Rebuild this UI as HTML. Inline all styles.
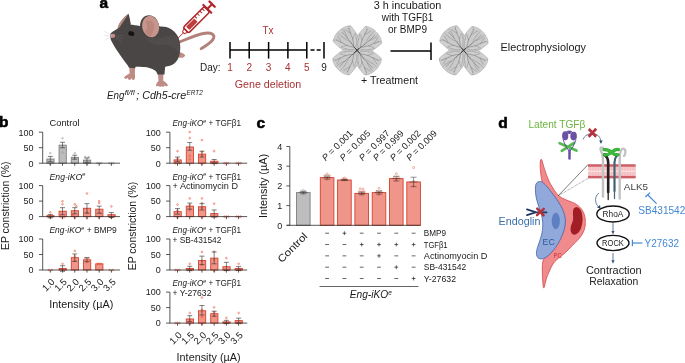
<!DOCTYPE html>
<html><head><meta charset="utf-8"><title>Figure</title>
<style>
html,body{margin:0;padding:0;background:#fff;}
body{width:685px;height:363px;overflow:hidden;font-family:'Liberation Sans', sans-serif;}
svg{display:block;font-family:"Liberation Sans",sans-serif;will-change:transform;}
</style></head><body>
<svg width="685" height="363" viewBox="0 0 685 363">
<rect width="685" height="363" fill="#fff"/>
<text x="99.6" y="8.0" font-size="15.5" fill="#000" text-anchor="start" font-weight="bold" stroke="#000" stroke-width="0.55" stroke-linejoin="round">a</text>
<text x="-0.9" y="127.3" font-size="15.5" fill="#000" text-anchor="start" font-weight="bold" stroke="#000" stroke-width="0.55" stroke-linejoin="round">b</text>
<text x="256.4" y="127.7" font-size="15.5" fill="#000" text-anchor="start" font-weight="bold" stroke="#000" stroke-width="0.55" stroke-linejoin="round">c</text>
<text x="498.3" y="127.7" font-size="15.5" fill="#000" text-anchor="start" font-weight="bold" stroke="#000" stroke-width="0.55" stroke-linejoin="round">d</text>
<g id="mouse">
<!-- tail -->
<path d="M178.5 42.5 C186 39.5 196 34.5 205 33.2 C211.5 32.3 214.8 34.8 213.6 38.2 C212.2 42.2 206 45.5 201.2 48.6" fill="none" stroke="#B28179" stroke-width="2.9" stroke-linecap="round"/>
<!-- back hind foot -->
<path d="M176.5 52.2 C180 51.6 183.5 53.2 185.3 55.4 C184.8 56.8 183.6 56.6 182.8 57.8 C181.2 58 179.3 57.8 177.5 57 Z" fill="#BE8C84"/>
<!-- front paw & leg -->
<path d="M129.3 66 L135 66.5 L134.9 74.5 C135.3 76.5 135 78.6 134.3 79.8 L132.6 80 L131.5 78.2 L130.2 80 L128.3 79.6 L127.8 78 L125.6 79 L123.9 77.6 C125.3 75.8 127.6 74.4 129.6 73.6 Z" fill="#BE8C84"/>
<!-- hind leg pink & foot -->
<path d="M158 73.5 L163.4 73.5 L163.2 80.8 C165.5 82 167.6 83.8 168 85.4 L166.2 86.6 L164.4 85.4 L163.4 87 L161.4 86.2 L160.2 87 L158.2 86 L156 86.2 C155.8 84 157.2 82.2 158.5 81 Z" fill="#BE8C84"/>
<!-- left ear -->
<path d="M117.6 28.4 C118.6 23.5 123.5 17.2 128.5 13.8 C129.6 16.8 130.2 20.8 130.9 24.6 L124 29.5 Z" fill="#4A4646"/>
<path d="M117.6 28.4 C118.6 23.5 123.5 17.2 128.5 13.8 C125.8 18.2 121.8 23.2 119.6 27.6 Z" fill="#BC8880"/>
<!-- body -->
<path d="M110.2 36 C109.6 33.8 111.6 32.2 114.6 30.6 C117 28.4 121 26.6 125 25.4 C128.5 24.2 133.5 24.4 140.5 26.2 C147 24 155 24.8 160.5 26.6 C167 26.2 173.5 29.2 177.2 35.2 C180.4 40.5 181 48 179.6 54 C178.6 59.4 175.6 63.6 170.6 65.6 C168.4 66.4 166.4 66.4 165.1 67 L164.5 74.5 L157.4 74.5 C157 73 156.4 71.6 155 70.6 C151.5 68.2 147.5 67.2 144 67 C139.5 66.8 136.5 66.6 135.4 66.9 L135.3 68.3 L129 67.7 C128.4 66.6 128.2 66 127.6 65.2 C124.6 61.6 121.2 57 118.4 52.6 C115.6 48.4 112.8 43.8 111 40.2 C110.4 38.8 110.2 37.4 110.2 36 Z" fill="#4A4646"/>
<!-- subtle lighter areas -->
<path d="M141 30 C146 34 150 40 160 38 C168 36 174 34 177 36 C180 42 180.6 50 179 55 C176 48 170 44 163 45 C153 46 146 42 141 30 Z" fill="#524E4D" opacity="0.7"/>
<!-- right ear -->
<ellipse cx="149.6" cy="26.6" rx="9.6" ry="11.4" transform="rotate(-12 149.6 26.6)" fill="#464242"/>
<ellipse cx="150.6" cy="26.6" rx="8.5" ry="10.8" transform="rotate(-12 150.6 26.6)" fill="#C7958C"/>
<path d="M145.5 22 C148 19.5 152.5 20.5 153.8 24 C155 28 153 33 150.2 36.6 C147.5 35.8 145.4 33.4 145.2 30.6 C147.5 29.2 148.4 26.4 145.5 22 Z" fill="#B5827A" opacity="0.75"/>
<!-- nose -->
<ellipse cx="113" cy="35.8" rx="2.3" ry="2.1" fill="#C68A83"/>
<!-- eye -->
<ellipse cx="131.3" cy="33.6" rx="3.1" ry="2.3" transform="rotate(18 131.3 33.6)" fill="#171313"/>
<!-- whiskers -->
<path d="M112 35 L104 31.3 M112 36 L103.8 35.6 M112.2 37 L105 39.5" stroke="#d9d6d6" stroke-width="0.5" fill="none"/>
<path d="M116 36.5 L123 35 M116 37.5 L123.5 38.5 M116 38.5 L122 42" stroke="#6a6565" stroke-width="0.4" fill="none"/>
</g>
<g id="syringe" transform="translate(177.6 38.6) rotate(-45)">
<line x1="0" y1="0" x2="9" y2="0" stroke="#B0272B" stroke-width="0.9"/>
<path d="M8.2 -1.3 L11.6 -2.6 L11.6 2.6 L8.2 1.3 Z" fill="#fff" stroke="#B0272B" stroke-width="1"/>
<rect x="11.8" y="-3.9" width="29.6" height="7.8" rx="1.6" fill="#fff" stroke="#B0272B" stroke-width="1.5"/>
<rect x="14.4" y="-2.3" width="11.6" height="4.6" rx="0.6" fill="#BF3E3C"/>
<path d="M28 -3.9 v3.2 M31.6 -3.9 v3.2 M35.2 -3.9 v3.2 M38.6 -3.9 v3.2" stroke="#B0272B" stroke-width="1" fill="none"/>
<line x1="42" y1="-5.6" x2="42" y2="5.6" stroke="#B0272B" stroke-width="2.1" stroke-linecap="round"/>
<line x1="42" y1="0" x2="48.6" y2="0" stroke="#B0272B" stroke-width="2.1"/>
<line x1="48.8" y1="-3.7" x2="48.8" y2="3.7" stroke="#B0272B" stroke-width="2.3" stroke-linecap="round"/>
</g>

<line x1="230" y1="50" x2="306.8" y2="50" stroke="#000" stroke-width="1.5" />
<line x1="230" y1="42" x2="230" y2="58.6" stroke="#000" stroke-width="1.5" />
<line x1="249.2" y1="42" x2="249.2" y2="58.6" stroke="#000" stroke-width="1.5" />
<line x1="268.6" y1="42" x2="268.6" y2="58.6" stroke="#000" stroke-width="1.5" />
<line x1="287.9" y1="42" x2="287.9" y2="58.6" stroke="#000" stroke-width="1.5" />
<line x1="306.8" y1="42" x2="306.8" y2="58.6" stroke="#000" stroke-width="1.5" />
<line x1="324" y1="42" x2="324" y2="58.6" stroke="#000" stroke-width="1.5" />
<line x1="310.5" y1="50" x2="321.5" y2="50" stroke="#000" stroke-width="1.5" stroke-dasharray="4 2.2"/>
<text x="200" y="71" font-size="10" fill="#1a1a1a" text-anchor="start" textLength="20.5" lengthAdjust="spacingAndGlyphs" >Day:</text>
<text x="230" y="71" font-size="10" fill="#A83232" text-anchor="middle" >1</text>
<text x="249.2" y="71" font-size="10" fill="#A83232" text-anchor="middle" >2</text>
<text x="268.6" y="71" font-size="10" fill="#A83232" text-anchor="middle" >3</text>
<text x="287.9" y="71" font-size="10" fill="#A83232" text-anchor="middle" >4</text>
<text x="306.8" y="71" font-size="10" fill="#A83232" text-anchor="middle" >5</text>
<text x="324" y="71" font-size="10" fill="#1a1a1a" text-anchor="middle" >9</text>
<text x="268" y="33.7" font-size="10" fill="#A83232" text-anchor="middle" >Tx</text>
<text x="268" y="88" font-size="10" fill="#A83232" text-anchor="middle" textLength="66.5" lengthAdjust="spacingAndGlyphs" >Gene deletion</text>
<text x="107.0" y="99" font-size="10.2" fill="#1a1a1a" text-anchor="start" font-style="italic" textLength="17.3" lengthAdjust="spacingAndGlyphs" >Eng</text>
<text x="124.7" y="95.3" font-size="6.4" fill="#1a1a1a" text-anchor="start" font-style="italic" textLength="10" lengthAdjust="spacingAndGlyphs" >fl/fl</text>
<text x="136.3" y="99" font-size="10.2" fill="#1a1a1a" text-anchor="start" font-style="italic" textLength="49.8" lengthAdjust="spacingAndGlyphs" >; Cdh5-cre</text>
<text x="186.5" y="95.3" font-size="6.4" fill="#1a1a1a" text-anchor="start" font-style="italic" textLength="16.2" lengthAdjust="spacingAndGlyphs" >ERT2</text>
<defs>
<g id="petal">
<path d="M0 0 C3 -2.5 8 -6.4 10.3 -10.3 C11.2 -14 11.6 -18.5 11.8 -22.6 C6.5 -28.2 -6.5 -28.2 -11.8 -22.6 C-11.6 -18.5 -11.2 -14 -10.3 -10.3 C-8 -6.4 -3 -2.5 0 0 Z" fill="#D0D0D0" stroke="#ABABAB" stroke-width="0.6" stroke-linejoin="round"/>
<path d="M0 -2 C4 -8 8 -16 9.5 -22 C5 -26 -5 -26 -9.5 -22 C-8 -16 -4 -8 0 -2 Z" fill="#C4C4C4" opacity="0.5"/>
<g fill="none" stroke="#333" stroke-linecap="round" opacity="0.68">
<path d="M0 0 C0.8 -2 -0.6 -3.6 0.3 -5.6 C1.2 -7.4 0 -8.6 0.6 -10" stroke-width="0.7"/>
<path d="M0.6 -10 C1.8 -12 0.4 -13.6 1.2 -16 C1.8 -18.2 0.6 -20 1 -23.4" stroke-width="0.4"/>
<path d="M0.3 -5.6 C2.4 -7.6 3 -9.6 4.6 -11.6 C5.6 -13.6 5.4 -15.4 6.8 -17.6 C7.6 -19.2 7.6 -20.4 8.6 -22" stroke-width="0.4"/>
<path d="M0.2 -4.4 C-2 -6.6 -2.8 -8.8 -4.2 -10.8 C-5.4 -12.6 -5 -14.6 -6.4 -16.8 C-7.2 -18.6 -7.2 -19.8 -8.2 -21.6" stroke-width="0.4"/>
<path d="M4.6 -11.6 C6.2 -12 7.4 -13.2 9.2 -14.2 M6.8 -17.6 C5.6 -19.6 5.8 -21.4 5 -24 M-4.2 -10.8 C-6 -11.2 -7 -12.4 -8.8 -13.4 M-6.4 -16.8 C-5.2 -19 -5.4 -21 -4.6 -23.8" stroke-width="0.3"/>
<path d="M1.2 -16 C2.6 -17.8 2.6 -20 3.2 -22.6 M0.6 -12 C-1 -14.4 -1.2 -17 -2 -20.4 M1.6 -3.6 C4 -5 6 -6.6 7.6 -9.6 M-1.4 -3 C-3.8 -4.4 -5.6 -6 -7.2 -9" stroke-width="0.3"/>
<path d="M8.6 -22 C9.2 -23 9.8 -23.2 10.6 -23.4 M-8.2 -21.6 C-9 -22.6 -9.6 -22.8 -10.6 -23 M7.6 -9.6 C8.8 -11 9.4 -12.6 10.2 -14 M-7.2 -9 C-8.4 -10.6 -9 -12 -10 -13.6 M3.2 -22.6 C3.4 -24 3 -25 3.2 -26 M-2 -20.4 C-2.4 -22.4 -2 -24 -2.4 -25.6" stroke-width="0.25"/>
</g>
</g>
<g id="retina">
<use href="#petal" transform="rotate(-41.8)"/>
<use href="#petal" transform="rotate(46.2)"/>
<use href="#petal" transform="rotate(135.4)"/>
<use href="#petal" transform="rotate(-135)"/>
<path d="M-2.2 -2.8 C-1 -1.4 0.6 0.4 2.4 2.6 M-2.6 2 C-1 0.8 0.8 -0.8 2 -2.4" stroke="#222" stroke-width="0.9" stroke-linecap="round" fill="none"/>
</g>
</defs>
<use href="#retina" x="357.1" y="50.6"/>
<use href="#retina" x="463.6" y="50.6"/>

<text x="407.5" y="9.3" font-size="10" fill="#1a1a1a" text-anchor="middle" textLength="67.5" lengthAdjust="spacingAndGlyphs" >3 h incubation</text>
<text x="407.5" y="21.3" font-size="10" fill="#1a1a1a" text-anchor="middle" textLength="51.5" lengthAdjust="spacingAndGlyphs" >with TGFβ1</text>
<text x="407.5" y="33.3" font-size="10" fill="#1a1a1a" text-anchor="middle" textLength="39" lengthAdjust="spacingAndGlyphs" >or BMP9</text>
<line x1="390.5" y1="51" x2="431" y2="51" stroke="#000" stroke-width="1.5" />
<line x1="431" y1="42.5" x2="431" y2="60" stroke="#000" stroke-width="1.5" />
<text x="389.5" y="84" font-size="10" fill="#1a1a1a" text-anchor="middle" textLength="57" lengthAdjust="spacingAndGlyphs" >+ Treatment</text>
<text x="500.5" y="51" font-size="10" fill="#1a1a1a" text-anchor="start" textLength="85.5" lengthAdjust="spacingAndGlyphs" >Electrophysiology</text>
<rect x="46.85" y="159.04" width="7.2" height="4.16" fill="#BDBDBD" stroke="#7E7E7E" stroke-width="0.9"/>
<circle cx="50.30" cy="153.04" r="0.85" fill="none" stroke="#9a9a9a" stroke-width="0.6"/>
<circle cx="50.30" cy="164.12" r="0.85" fill="none" stroke="#9a9a9a" stroke-width="0.6"/>
<line x1="50.30" y1="161.66" x2="50.30" y2="156.42" stroke="#2b2b2b" stroke-width="0.6" />
<line x1="47.80" y1="156.42" x2="52.80" y2="156.42" stroke="#2b2b2b" stroke-width="0.6" />
<line x1="47.80" y1="161.66" x2="52.80" y2="161.66" stroke="#2b2b2b" stroke-width="0.6" />
<rect x="59.07" y="145.18" width="7.2" height="18.02" fill="#BDBDBD" stroke="#7E7E7E" stroke-width="0.9"/>
<circle cx="62.52" cy="138.25" r="0.85" fill="none" stroke="#9a9a9a" stroke-width="0.6"/>
<circle cx="62.52" cy="152.42" r="0.85" fill="none" stroke="#9a9a9a" stroke-width="0.6"/>
<line x1="62.52" y1="147.80" x2="62.52" y2="142.26" stroke="#2b2b2b" stroke-width="0.6" />
<line x1="60.02" y1="142.26" x2="65.02" y2="142.26" stroke="#2b2b2b" stroke-width="0.6" />
<line x1="60.02" y1="147.80" x2="65.02" y2="147.80" stroke="#2b2b2b" stroke-width="0.6" />
<rect x="71.29" y="157.35" width="7.2" height="5.85" fill="#BDBDBD" stroke="#7E7E7E" stroke-width="0.9"/>
<circle cx="74.74" cy="153.04" r="0.85" fill="none" stroke="#9a9a9a" stroke-width="0.6"/>
<circle cx="74.74" cy="158.58" r="0.85" fill="none" stroke="#9a9a9a" stroke-width="0.6"/>
<line x1="74.74" y1="159.20" x2="74.74" y2="155.19" stroke="#2b2b2b" stroke-width="0.6" />
<line x1="72.24" y1="155.19" x2="77.24" y2="155.19" stroke="#2b2b2b" stroke-width="0.6" />
<line x1="72.24" y1="159.20" x2="77.24" y2="159.20" stroke="#2b2b2b" stroke-width="0.6" />
<rect x="83.51" y="160.12" width="7.2" height="3.08" fill="#BDBDBD" stroke="#7E7E7E" stroke-width="0.9"/>
<circle cx="85.16" cy="157.04" r="0.85" fill="none" stroke="#9a9a9a" stroke-width="0.6"/>
<circle cx="88.76" cy="157.04" r="0.85" fill="none" stroke="#9a9a9a" stroke-width="0.6"/>
<circle cx="86.96" cy="164.12" r="0.85" fill="none" stroke="#9a9a9a" stroke-width="0.6"/>
<line x1="86.96" y1="162.28" x2="86.96" y2="157.96" stroke="#2b2b2b" stroke-width="0.6" />
<line x1="84.46" y1="157.96" x2="89.46" y2="157.96" stroke="#2b2b2b" stroke-width="0.6" />
<line x1="84.46" y1="162.28" x2="89.46" y2="162.28" stroke="#2b2b2b" stroke-width="0.6" />
<circle cx="97.18" cy="163.20" r="0.85" fill="none" stroke="#9a9a9a" stroke-width="0.6"/>
<circle cx="99.18" cy="163.20" r="0.85" fill="none" stroke="#9a9a9a" stroke-width="0.6"/>
<circle cx="101.18" cy="163.20" r="0.85" fill="none" stroke="#9a9a9a" stroke-width="0.6"/>
<circle cx="109.40" cy="163.20" r="0.85" fill="none" stroke="#9a9a9a" stroke-width="0.6"/>
<circle cx="111.40" cy="163.20" r="0.85" fill="none" stroke="#9a9a9a" stroke-width="0.6"/>
<circle cx="113.40" cy="163.20" r="0.85" fill="none" stroke="#9a9a9a" stroke-width="0.6"/>
<line x1="42.7" y1="132.2" x2="42.7" y2="163.2" stroke="#2c2c2c" stroke-width="0.8" />
<line x1="42.400000000000006" y1="163.2" x2="120.0" y2="163.2" stroke="#2c2c2c" stroke-width="0.8" />
<line x1="38.900000000000006" y1="163.2" x2="42.7" y2="163.2" stroke="#2c2c2c" stroke-width="0.8" />
<text x="33.5" y="166.5" font-size="9" fill="#1a1a1a" text-anchor="end" >0</text>
<line x1="38.900000000000006" y1="147.7" x2="42.7" y2="147.7" stroke="#2c2c2c" stroke-width="0.8" />
<text x="33.5" y="151.0" font-size="9" fill="#1a1a1a" text-anchor="end" >50</text>
<line x1="38.900000000000006" y1="132.2" x2="42.7" y2="132.2" stroke="#2c2c2c" stroke-width="0.8" />
<text x="33.5" y="135.5" font-size="9" fill="#1a1a1a" text-anchor="end" >100</text>
<line x1="50.30" y1="163.2" x2="50.30" y2="165.79999999999998" stroke="#2c2c2c" stroke-width="0.8" />
<line x1="62.52" y1="163.2" x2="62.52" y2="165.79999999999998" stroke="#2c2c2c" stroke-width="0.8" />
<line x1="74.74" y1="163.2" x2="74.74" y2="165.79999999999998" stroke="#2c2c2c" stroke-width="0.8" />
<line x1="86.96" y1="163.2" x2="86.96" y2="165.79999999999998" stroke="#2c2c2c" stroke-width="0.8" />
<line x1="99.18" y1="163.2" x2="99.18" y2="165.79999999999998" stroke="#2c2c2c" stroke-width="0.8" />
<line x1="111.40" y1="163.2" x2="111.40" y2="165.79999999999998" stroke="#2c2c2c" stroke-width="0.8" />
<text x="49.5" y="126.29999999999998" font-size="9.3" fill="#1a1a1a" text-anchor="start" textLength="30" lengthAdjust="spacingAndGlyphs" >Control</text>
<rect x="46.85" y="215.68" width="7.2" height="0.92" fill="#F0958A" stroke="#D8412A" stroke-width="0.9"/>
<circle cx="50.30" cy="212.29" r="0.85" fill="none" stroke="#E4573F" stroke-width="0.6"/>
<circle cx="47.90" cy="216.60" r="0.85" fill="none" stroke="#E4573F" stroke-width="0.6"/>
<circle cx="52.70" cy="216.60" r="0.85" fill="none" stroke="#E4573F" stroke-width="0.6"/>
<circle cx="50.30" cy="217.22" r="0.85" fill="none" stroke="#E4573F" stroke-width="0.6"/>
<line x1="50.30" y1="217.83" x2="50.30" y2="214.44" stroke="#2b2b2b" stroke-width="0.6" />
<line x1="47.80" y1="214.44" x2="52.80" y2="214.44" stroke="#2b2b2b" stroke-width="0.6" />
<line x1="47.80" y1="217.83" x2="52.80" y2="217.83" stroke="#2b2b2b" stroke-width="0.6" />
<rect x="59.07" y="211.21" width="7.2" height="5.39" fill="#F0958A" stroke="#D8412A" stroke-width="0.9"/>
<circle cx="62.52" cy="201.20" r="0.85" fill="none" stroke="#E4573F" stroke-width="0.6"/>
<circle cx="62.52" cy="204.28" r="0.85" fill="none" stroke="#E4573F" stroke-width="0.6"/>
<circle cx="61.02" cy="217.22" r="0.85" fill="none" stroke="#E4573F" stroke-width="0.6"/>
<circle cx="64.02" cy="217.22" r="0.85" fill="none" stroke="#E4573F" stroke-width="0.6"/>
<line x1="62.52" y1="214.75" x2="62.52" y2="207.67" stroke="#2b2b2b" stroke-width="0.6" />
<line x1="60.02" y1="207.67" x2="65.02" y2="207.67" stroke="#2b2b2b" stroke-width="0.6" />
<line x1="60.02" y1="214.75" x2="65.02" y2="214.75" stroke="#2b2b2b" stroke-width="0.6" />
<rect x="71.29" y="210.75" width="7.2" height="5.85" fill="#F0958A" stroke="#D8412A" stroke-width="0.9"/>
<circle cx="74.74" cy="204.28" r="0.85" fill="none" stroke="#E4573F" stroke-width="0.6"/>
<circle cx="76.34" cy="206.13" r="0.85" fill="none" stroke="#E4573F" stroke-width="0.6"/>
<circle cx="74.74" cy="217.83" r="0.85" fill="none" stroke="#E4573F" stroke-width="0.6"/>
<circle cx="73.24" cy="215.06" r="0.85" fill="none" stroke="#E4573F" stroke-width="0.6"/>
<line x1="74.74" y1="213.83" x2="74.74" y2="207.67" stroke="#2b2b2b" stroke-width="0.6" />
<line x1="72.24" y1="207.67" x2="77.24" y2="207.67" stroke="#2b2b2b" stroke-width="0.6" />
<line x1="72.24" y1="213.83" x2="77.24" y2="213.83" stroke="#2b2b2b" stroke-width="0.6" />
<rect x="83.51" y="208.28" width="7.2" height="8.32" fill="#F0958A" stroke="#D8412A" stroke-width="0.9"/>
<circle cx="86.96" cy="193.50" r="0.85" fill="none" stroke="#E4573F" stroke-width="0.6"/>
<circle cx="86.96" cy="212.29" r="0.85" fill="none" stroke="#E4573F" stroke-width="0.6"/>
<circle cx="86.96" cy="218.14" r="0.85" fill="none" stroke="#E4573F" stroke-width="0.6"/>
<line x1="86.96" y1="213.21" x2="86.96" y2="203.66" stroke="#2b2b2b" stroke-width="0.6" />
<line x1="84.46" y1="203.66" x2="89.46" y2="203.66" stroke="#2b2b2b" stroke-width="0.6" />
<line x1="84.46" y1="213.21" x2="89.46" y2="213.21" stroke="#2b2b2b" stroke-width="0.6" />
<rect x="95.73" y="209.21" width="7.2" height="7.39" fill="#F0958A" stroke="#D8412A" stroke-width="0.9"/>
<circle cx="99.18" cy="201.20" r="0.85" fill="none" stroke="#E4573F" stroke-width="0.6"/>
<circle cx="99.18" cy="203.05" r="0.85" fill="none" stroke="#E4573F" stroke-width="0.6"/>
<circle cx="99.18" cy="217.83" r="0.85" fill="none" stroke="#E4573F" stroke-width="0.6"/>
<circle cx="100.68" cy="213.52" r="0.85" fill="none" stroke="#E4573F" stroke-width="0.6"/>
<line x1="99.18" y1="213.21" x2="99.18" y2="206.13" stroke="#2b2b2b" stroke-width="0.6" />
<line x1="96.68" y1="206.13" x2="101.68" y2="206.13" stroke="#2b2b2b" stroke-width="0.6" />
<line x1="96.68" y1="213.21" x2="101.68" y2="213.21" stroke="#2b2b2b" stroke-width="0.6" />
<rect x="107.95" y="214.75" width="7.2" height="1.85" fill="#F0958A" stroke="#D8412A" stroke-width="0.9"/>
<circle cx="111.40" cy="206.44" r="0.85" fill="none" stroke="#E4573F" stroke-width="0.6"/>
<circle cx="109.00" cy="216.60" r="0.85" fill="none" stroke="#E4573F" stroke-width="0.6"/>
<circle cx="113.80" cy="216.60" r="0.85" fill="none" stroke="#E4573F" stroke-width="0.6"/>
<circle cx="111.40" cy="217.52" r="0.85" fill="none" stroke="#E4573F" stroke-width="0.6"/>
<line x1="111.40" y1="217.52" x2="111.40" y2="212.60" stroke="#2b2b2b" stroke-width="0.6" />
<line x1="108.90" y1="212.60" x2="113.90" y2="212.60" stroke="#2b2b2b" stroke-width="0.6" />
<line x1="108.90" y1="217.52" x2="113.90" y2="217.52" stroke="#2b2b2b" stroke-width="0.6" />
<line x1="42.7" y1="185.6" x2="42.7" y2="216.6" stroke="#2c2c2c" stroke-width="0.8" />
<line x1="42.400000000000006" y1="216.6" x2="120.0" y2="216.6" stroke="#2c2c2c" stroke-width="0.8" />
<line x1="38.900000000000006" y1="216.6" x2="42.7" y2="216.6" stroke="#2c2c2c" stroke-width="0.8" />
<text x="33.5" y="219.9" font-size="9" fill="#1a1a1a" text-anchor="end" >0</text>
<line x1="38.900000000000006" y1="201.1" x2="42.7" y2="201.1" stroke="#2c2c2c" stroke-width="0.8" />
<text x="33.5" y="204.4" font-size="9" fill="#1a1a1a" text-anchor="end" >50</text>
<line x1="38.900000000000006" y1="185.6" x2="42.7" y2="185.6" stroke="#2c2c2c" stroke-width="0.8" />
<text x="33.5" y="188.9" font-size="9" fill="#1a1a1a" text-anchor="end" >100</text>
<line x1="50.30" y1="216.6" x2="50.30" y2="219.2" stroke="#2c2c2c" stroke-width="0.8" />
<line x1="62.52" y1="216.6" x2="62.52" y2="219.2" stroke="#2c2c2c" stroke-width="0.8" />
<line x1="74.74" y1="216.6" x2="74.74" y2="219.2" stroke="#2c2c2c" stroke-width="0.8" />
<line x1="86.96" y1="216.6" x2="86.96" y2="219.2" stroke="#2c2c2c" stroke-width="0.8" />
<line x1="99.18" y1="216.6" x2="99.18" y2="219.2" stroke="#2c2c2c" stroke-width="0.8" />
<line x1="111.40" y1="216.6" x2="111.40" y2="219.2" stroke="#2c2c2c" stroke-width="0.8" />
<text x="49.5" y="179.7" font-size="9.3" fill="#1a1a1a" text-anchor="start" textLength="36" lengthAdjust="spacingAndGlyphs" ><tspan font-style="italic">Eng-iKO</tspan><tspan font-style="italic" dy="-3.4" font-size="6">e</tspan><tspan dy="3.4"></tspan></text>
<circle cx="48.80" cy="270.00" r="0.85" fill="none" stroke="#E4573F" stroke-width="0.6"/>
<circle cx="51.80" cy="270.00" r="0.85" fill="none" stroke="#E4573F" stroke-width="0.6"/>
<rect x="59.07" y="268.46" width="7.2" height="1.54" fill="#F0958A" stroke="#D8412A" stroke-width="0.9"/>
<circle cx="62.52" cy="263.84" r="0.85" fill="none" stroke="#E4573F" stroke-width="0.6"/>
<circle cx="60.52" cy="270.00" r="0.85" fill="none" stroke="#E4573F" stroke-width="0.6"/>
<circle cx="64.52" cy="270.00" r="0.85" fill="none" stroke="#E4573F" stroke-width="0.6"/>
<line x1="62.52" y1="271.23" x2="62.52" y2="265.69" stroke="#2b2b2b" stroke-width="0.6" />
<line x1="60.02" y1="265.69" x2="65.02" y2="265.69" stroke="#2b2b2b" stroke-width="0.6" />
<line x1="60.02" y1="271.23" x2="65.02" y2="271.23" stroke="#2b2b2b" stroke-width="0.6" />
<rect x="71.29" y="257.68" width="7.2" height="12.32" fill="#F0958A" stroke="#D8412A" stroke-width="0.9"/>
<circle cx="74.74" cy="250.90" r="0.85" fill="none" stroke="#E4573F" stroke-width="0.6"/>
<circle cx="74.74" cy="256.14" r="0.85" fill="none" stroke="#E4573F" stroke-width="0.6"/>
<circle cx="74.74" cy="260.76" r="0.85" fill="none" stroke="#E4573F" stroke-width="0.6"/>
<line x1="74.74" y1="261.38" x2="74.74" y2="253.98" stroke="#2b2b2b" stroke-width="0.6" />
<line x1="72.24" y1="253.98" x2="77.24" y2="253.98" stroke="#2b2b2b" stroke-width="0.6" />
<line x1="72.24" y1="261.38" x2="77.24" y2="261.38" stroke="#2b2b2b" stroke-width="0.6" />
<rect x="83.51" y="259.84" width="7.2" height="10.16" fill="#F0958A" stroke="#D8412A" stroke-width="0.9"/>
<circle cx="85.46" cy="258.30" r="0.85" fill="none" stroke="#E4573F" stroke-width="0.6"/>
<circle cx="88.46" cy="258.30" r="0.85" fill="none" stroke="#E4573F" stroke-width="0.6"/>
<circle cx="86.96" cy="262.30" r="0.85" fill="none" stroke="#E4573F" stroke-width="0.6"/>
<line x1="86.96" y1="261.68" x2="86.96" y2="257.68" stroke="#2b2b2b" stroke-width="0.6" />
<line x1="84.46" y1="257.68" x2="89.46" y2="257.68" stroke="#2b2b2b" stroke-width="0.6" />
<line x1="84.46" y1="261.68" x2="89.46" y2="261.68" stroke="#2b2b2b" stroke-width="0.6" />
<rect x="95.73" y="263.84" width="7.2" height="6.16" fill="#F0958A" stroke="#D8412A" stroke-width="0.9"/>
<circle cx="97.58" cy="263.84" r="0.85" fill="none" stroke="#E4573F" stroke-width="0.6"/>
<circle cx="99.18" cy="263.84" r="0.85" fill="none" stroke="#E4573F" stroke-width="0.6"/>
<circle cx="100.78" cy="263.84" r="0.85" fill="none" stroke="#E4573F" stroke-width="0.6"/>
<circle cx="109.90" cy="270.00" r="0.85" fill="none" stroke="#E4573F" stroke-width="0.6"/>
<circle cx="112.90" cy="270.00" r="0.85" fill="none" stroke="#E4573F" stroke-width="0.6"/>
<line x1="42.7" y1="239.0" x2="42.7" y2="270.0" stroke="#2c2c2c" stroke-width="0.8" />
<line x1="42.400000000000006" y1="270.0" x2="120.0" y2="270.0" stroke="#2c2c2c" stroke-width="0.8" />
<line x1="38.900000000000006" y1="270.0" x2="42.7" y2="270.0" stroke="#2c2c2c" stroke-width="0.8" />
<text x="33.5" y="273.3" font-size="9" fill="#1a1a1a" text-anchor="end" >0</text>
<line x1="38.900000000000006" y1="254.5" x2="42.7" y2="254.5" stroke="#2c2c2c" stroke-width="0.8" />
<text x="33.5" y="257.8" font-size="9" fill="#1a1a1a" text-anchor="end" >50</text>
<line x1="38.900000000000006" y1="239.0" x2="42.7" y2="239.0" stroke="#2c2c2c" stroke-width="0.8" />
<text x="33.5" y="242.3" font-size="9" fill="#1a1a1a" text-anchor="end" >100</text>
<line x1="50.30" y1="270.0" x2="50.30" y2="272.6" stroke="#2c2c2c" stroke-width="0.8" />
<line x1="62.52" y1="270.0" x2="62.52" y2="272.6" stroke="#2c2c2c" stroke-width="0.8" />
<line x1="74.74" y1="270.0" x2="74.74" y2="272.6" stroke="#2c2c2c" stroke-width="0.8" />
<line x1="86.96" y1="270.0" x2="86.96" y2="272.6" stroke="#2c2c2c" stroke-width="0.8" />
<line x1="99.18" y1="270.0" x2="99.18" y2="272.6" stroke="#2c2c2c" stroke-width="0.8" />
<line x1="111.40" y1="270.0" x2="111.40" y2="272.6" stroke="#2c2c2c" stroke-width="0.8" />
<text x="49.5" y="233.1" font-size="9.3" fill="#1a1a1a" text-anchor="start" textLength="67.3" lengthAdjust="spacingAndGlyphs" ><tspan font-style="italic">Eng-iKO</tspan><tspan font-style="italic" dy="-3.4" font-size="6">e</tspan><tspan dy="3.4"> + BMP9</tspan></text>
<rect x="174.05" y="159.90" width="7.2" height="3.30" fill="#F0958A" stroke="#D8412A" stroke-width="0.9"/>
<circle cx="177.50" cy="151.19" r="0.85" fill="none" stroke="#E4573F" stroke-width="0.6"/>
<circle cx="177.50" cy="158.58" r="0.85" fill="none" stroke="#E4573F" stroke-width="0.6"/>
<circle cx="175.50" cy="163.20" r="0.85" fill="none" stroke="#E4573F" stroke-width="0.6"/>
<circle cx="179.50" cy="163.20" r="0.85" fill="none" stroke="#E4573F" stroke-width="0.6"/>
<line x1="177.50" y1="161.66" x2="177.50" y2="157.04" stroke="#2b2b2b" stroke-width="0.6" />
<line x1="175.00" y1="157.04" x2="180.00" y2="157.04" stroke="#2b2b2b" stroke-width="0.6" />
<line x1="175.00" y1="161.66" x2="180.00" y2="161.66" stroke="#2b2b2b" stroke-width="0.6" />
<rect x="186.27" y="147.00" width="7.2" height="16.20" fill="#F0958A" stroke="#D8412A" stroke-width="0.9"/>
<circle cx="189.72" cy="132.09" r="0.85" fill="none" stroke="#E4573F" stroke-width="0.6"/>
<circle cx="189.72" cy="138.07" r="0.85" fill="none" stroke="#E4573F" stroke-width="0.6"/>
<circle cx="189.72" cy="155.81" r="0.85" fill="none" stroke="#E4573F" stroke-width="0.6"/>
<circle cx="189.72" cy="159.50" r="0.85" fill="none" stroke="#E4573F" stroke-width="0.6"/>
<line x1="189.72" y1="150.26" x2="189.72" y2="142.56" stroke="#2b2b2b" stroke-width="0.6" />
<line x1="187.22" y1="142.56" x2="192.22" y2="142.56" stroke="#2b2b2b" stroke-width="0.6" />
<line x1="187.22" y1="150.26" x2="192.22" y2="150.26" stroke="#2b2b2b" stroke-width="0.6" />
<rect x="198.49" y="154.11" width="7.2" height="9.09" fill="#F0958A" stroke="#D8412A" stroke-width="0.9"/>
<circle cx="201.94" cy="140.10" r="0.85" fill="none" stroke="#E4573F" stroke-width="0.6"/>
<circle cx="201.94" cy="151.80" r="0.85" fill="none" stroke="#E4573F" stroke-width="0.6"/>
<circle cx="201.94" cy="155.50" r="0.85" fill="none" stroke="#E4573F" stroke-width="0.6"/>
<circle cx="201.94" cy="164.12" r="0.85" fill="none" stroke="#E4573F" stroke-width="0.6"/>
<line x1="201.94" y1="157.04" x2="201.94" y2="151.19" stroke="#2b2b2b" stroke-width="0.6" />
<line x1="199.44" y1="151.19" x2="204.44" y2="151.19" stroke="#2b2b2b" stroke-width="0.6" />
<line x1="199.44" y1="157.04" x2="204.44" y2="157.04" stroke="#2b2b2b" stroke-width="0.6" />
<rect x="210.71" y="161.23" width="7.2" height="1.97" fill="#F0958A" stroke="#D8412A" stroke-width="0.9"/>
<circle cx="214.16" cy="151.19" r="0.85" fill="none" stroke="#E4573F" stroke-width="0.6"/>
<circle cx="212.16" cy="163.20" r="0.85" fill="none" stroke="#E4573F" stroke-width="0.6"/>
<circle cx="216.16" cy="163.20" r="0.85" fill="none" stroke="#E4573F" stroke-width="0.6"/>
<line x1="214.16" y1="163.20" x2="214.16" y2="159.50" stroke="#2b2b2b" stroke-width="0.6" />
<line x1="211.66" y1="159.50" x2="216.66" y2="159.50" stroke="#2b2b2b" stroke-width="0.6" />
<line x1="211.66" y1="163.20" x2="216.66" y2="163.20" stroke="#2b2b2b" stroke-width="0.6" />
<circle cx="224.38" cy="163.20" r="0.85" fill="none" stroke="#E4573F" stroke-width="0.6"/>
<circle cx="226.38" cy="163.20" r="0.85" fill="none" stroke="#E4573F" stroke-width="0.6"/>
<circle cx="228.38" cy="163.20" r="0.85" fill="none" stroke="#E4573F" stroke-width="0.6"/>
<circle cx="236.60" cy="163.20" r="0.85" fill="none" stroke="#E4573F" stroke-width="0.6"/>
<circle cx="238.60" cy="163.20" r="0.85" fill="none" stroke="#E4573F" stroke-width="0.6"/>
<circle cx="240.60" cy="163.20" r="0.85" fill="none" stroke="#E4573F" stroke-width="0.6"/>
<line x1="169.9" y1="132.2" x2="169.9" y2="163.2" stroke="#2c2c2c" stroke-width="0.8" />
<line x1="169.6" y1="163.2" x2="247.2" y2="163.2" stroke="#2c2c2c" stroke-width="0.8" />
<line x1="166.1" y1="163.2" x2="169.9" y2="163.2" stroke="#2c2c2c" stroke-width="0.8" />
<text x="160.70000000000002" y="166.5" font-size="9" fill="#1a1a1a" text-anchor="end" >0</text>
<line x1="166.1" y1="147.7" x2="169.9" y2="147.7" stroke="#2c2c2c" stroke-width="0.8" />
<text x="160.70000000000002" y="151.0" font-size="9" fill="#1a1a1a" text-anchor="end" >50</text>
<line x1="166.1" y1="132.2" x2="169.9" y2="132.2" stroke="#2c2c2c" stroke-width="0.8" />
<text x="160.70000000000002" y="135.5" font-size="9" fill="#1a1a1a" text-anchor="end" >100</text>
<line x1="177.50" y1="163.2" x2="177.50" y2="165.79999999999998" stroke="#2c2c2c" stroke-width="0.8" />
<line x1="189.72" y1="163.2" x2="189.72" y2="165.79999999999998" stroke="#2c2c2c" stroke-width="0.8" />
<line x1="201.94" y1="163.2" x2="201.94" y2="165.79999999999998" stroke="#2c2c2c" stroke-width="0.8" />
<line x1="214.16" y1="163.2" x2="214.16" y2="165.79999999999998" stroke="#2c2c2c" stroke-width="0.8" />
<line x1="226.38" y1="163.2" x2="226.38" y2="165.79999999999998" stroke="#2c2c2c" stroke-width="0.8" />
<line x1="238.60" y1="163.2" x2="238.60" y2="165.79999999999998" stroke="#2c2c2c" stroke-width="0.8" />
<text x="172.4" y="126.29999999999998" font-size="9.3" fill="#1a1a1a" text-anchor="start" textLength="68.6" lengthAdjust="spacingAndGlyphs" ><tspan font-style="italic">Eng-iKO</tspan><tspan font-style="italic" dy="-3.4" font-size="6">e</tspan><tspan dy="3.4"> + TGFβ1</tspan></text>
<rect x="174.05" y="211.67" width="7.2" height="4.93" fill="#F0958A" stroke="#D8412A" stroke-width="0.9"/>
<circle cx="177.50" cy="204.59" r="0.85" fill="none" stroke="#E4573F" stroke-width="0.6"/>
<circle cx="177.50" cy="210.44" r="0.85" fill="none" stroke="#E4573F" stroke-width="0.6"/>
<circle cx="177.50" cy="217.52" r="0.85" fill="none" stroke="#E4573F" stroke-width="0.6"/>
<line x1="177.50" y1="214.14" x2="177.50" y2="208.59" stroke="#2b2b2b" stroke-width="0.6" />
<line x1="175.00" y1="208.59" x2="180.00" y2="208.59" stroke="#2b2b2b" stroke-width="0.6" />
<line x1="175.00" y1="214.14" x2="180.00" y2="214.14" stroke="#2b2b2b" stroke-width="0.6" />
<rect x="186.27" y="206.13" width="7.2" height="10.47" fill="#F0958A" stroke="#D8412A" stroke-width="0.9"/>
<circle cx="189.72" cy="198.43" r="0.85" fill="none" stroke="#E4573F" stroke-width="0.6"/>
<circle cx="189.72" cy="204.90" r="0.85" fill="none" stroke="#E4573F" stroke-width="0.6"/>
<circle cx="189.72" cy="210.44" r="0.85" fill="none" stroke="#E4573F" stroke-width="0.6"/>
<line x1="189.72" y1="209.21" x2="189.72" y2="203.05" stroke="#2b2b2b" stroke-width="0.6" />
<line x1="187.22" y1="203.05" x2="192.22" y2="203.05" stroke="#2b2b2b" stroke-width="0.6" />
<line x1="187.22" y1="209.21" x2="192.22" y2="209.21" stroke="#2b2b2b" stroke-width="0.6" />
<rect x="198.49" y="206.74" width="7.2" height="9.86" fill="#F0958A" stroke="#D8412A" stroke-width="0.9"/>
<circle cx="201.94" cy="198.43" r="0.85" fill="none" stroke="#E4573F" stroke-width="0.6"/>
<circle cx="201.94" cy="203.05" r="0.85" fill="none" stroke="#E4573F" stroke-width="0.6"/>
<circle cx="201.94" cy="207.98" r="0.85" fill="none" stroke="#E4573F" stroke-width="0.6"/>
<circle cx="201.94" cy="217.52" r="0.85" fill="none" stroke="#E4573F" stroke-width="0.6"/>
<line x1="201.94" y1="209.98" x2="201.94" y2="203.66" stroke="#2b2b2b" stroke-width="0.6" />
<line x1="199.44" y1="203.66" x2="204.44" y2="203.66" stroke="#2b2b2b" stroke-width="0.6" />
<line x1="199.44" y1="209.98" x2="204.44" y2="209.98" stroke="#2b2b2b" stroke-width="0.6" />
<rect x="210.71" y="213.61" width="7.2" height="2.99" fill="#F0958A" stroke="#D8412A" stroke-width="0.9"/>
<circle cx="214.16" cy="203.66" r="0.85" fill="none" stroke="#E4573F" stroke-width="0.6"/>
<circle cx="212.16" cy="216.60" r="0.85" fill="none" stroke="#E4573F" stroke-width="0.6"/>
<circle cx="216.16" cy="216.60" r="0.85" fill="none" stroke="#E4573F" stroke-width="0.6"/>
<line x1="214.16" y1="216.91" x2="214.16" y2="209.98" stroke="#2b2b2b" stroke-width="0.6" />
<line x1="211.66" y1="209.98" x2="216.66" y2="209.98" stroke="#2b2b2b" stroke-width="0.6" />
<line x1="211.66" y1="216.91" x2="216.66" y2="216.91" stroke="#2b2b2b" stroke-width="0.6" />
<circle cx="224.38" cy="216.60" r="0.85" fill="none" stroke="#E4573F" stroke-width="0.6"/>
<circle cx="226.38" cy="216.60" r="0.85" fill="none" stroke="#E4573F" stroke-width="0.6"/>
<circle cx="228.38" cy="216.60" r="0.85" fill="none" stroke="#E4573F" stroke-width="0.6"/>
<circle cx="236.60" cy="216.60" r="0.85" fill="none" stroke="#E4573F" stroke-width="0.6"/>
<circle cx="238.60" cy="216.60" r="0.85" fill="none" stroke="#E4573F" stroke-width="0.6"/>
<circle cx="240.60" cy="216.60" r="0.85" fill="none" stroke="#E4573F" stroke-width="0.6"/>
<line x1="169.9" y1="185.6" x2="169.9" y2="216.6" stroke="#2c2c2c" stroke-width="0.8" />
<line x1="169.6" y1="216.6" x2="247.2" y2="216.6" stroke="#2c2c2c" stroke-width="0.8" />
<line x1="166.1" y1="216.6" x2="169.9" y2="216.6" stroke="#2c2c2c" stroke-width="0.8" />
<text x="160.70000000000002" y="219.9" font-size="9" fill="#1a1a1a" text-anchor="end" >0</text>
<line x1="166.1" y1="201.1" x2="169.9" y2="201.1" stroke="#2c2c2c" stroke-width="0.8" />
<text x="160.70000000000002" y="204.4" font-size="9" fill="#1a1a1a" text-anchor="end" >50</text>
<line x1="166.1" y1="185.6" x2="169.9" y2="185.6" stroke="#2c2c2c" stroke-width="0.8" />
<text x="160.70000000000002" y="188.9" font-size="9" fill="#1a1a1a" text-anchor="end" >100</text>
<line x1="177.50" y1="216.6" x2="177.50" y2="219.2" stroke="#2c2c2c" stroke-width="0.8" />
<line x1="189.72" y1="216.6" x2="189.72" y2="219.2" stroke="#2c2c2c" stroke-width="0.8" />
<line x1="201.94" y1="216.6" x2="201.94" y2="219.2" stroke="#2c2c2c" stroke-width="0.8" />
<line x1="214.16" y1="216.6" x2="214.16" y2="219.2" stroke="#2c2c2c" stroke-width="0.8" />
<line x1="226.38" y1="216.6" x2="226.38" y2="219.2" stroke="#2c2c2c" stroke-width="0.8" />
<line x1="238.60" y1="216.6" x2="238.60" y2="219.2" stroke="#2c2c2c" stroke-width="0.8" />
<text x="172.4" y="179.7" font-size="9.3" fill="#1a1a1a" text-anchor="start" textLength="68.6" lengthAdjust="spacingAndGlyphs" ><tspan font-style="italic">Eng-iKO</tspan><tspan font-style="italic" dy="-3.4" font-size="6">e</tspan><tspan dy="3.4"> + TGFβ1</tspan></text>
<text x="172.6" y="189.2" font-size="9.3" fill="#1a1a1a" text-anchor="start" textLength="65.4" lengthAdjust="spacingAndGlyphs" >+ Actinomycin D</text>
<circle cx="175.50" cy="270.00" r="0.85" fill="none" stroke="#E4573F" stroke-width="0.6"/>
<circle cx="177.50" cy="270.00" r="0.85" fill="none" stroke="#E4573F" stroke-width="0.6"/>
<circle cx="179.50" cy="270.00" r="0.85" fill="none" stroke="#E4573F" stroke-width="0.6"/>
<rect x="186.27" y="268.46" width="7.2" height="1.54" fill="#F0958A" stroke="#D8412A" stroke-width="0.9"/>
<circle cx="189.72" cy="263.84" r="0.85" fill="none" stroke="#E4573F" stroke-width="0.6"/>
<circle cx="187.72" cy="270.00" r="0.85" fill="none" stroke="#E4573F" stroke-width="0.6"/>
<circle cx="191.72" cy="270.00" r="0.85" fill="none" stroke="#E4573F" stroke-width="0.6"/>
<line x1="189.72" y1="270.49" x2="189.72" y2="266.30" stroke="#2b2b2b" stroke-width="0.6" />
<line x1="187.22" y1="266.30" x2="192.22" y2="266.30" stroke="#2b2b2b" stroke-width="0.6" />
<line x1="187.22" y1="270.49" x2="192.22" y2="270.49" stroke="#2b2b2b" stroke-width="0.6" />
<rect x="198.49" y="260.58" width="7.2" height="9.42" fill="#F0958A" stroke="#D8412A" stroke-width="0.9"/>
<circle cx="201.94" cy="251.98" r="0.85" fill="none" stroke="#E4573F" stroke-width="0.6"/>
<circle cx="201.94" cy="260.76" r="0.85" fill="none" stroke="#E4573F" stroke-width="0.6"/>
<circle cx="201.94" cy="265.38" r="0.85" fill="none" stroke="#E4573F" stroke-width="0.6"/>
<line x1="201.94" y1="264.46" x2="201.94" y2="256.14" stroke="#2b2b2b" stroke-width="0.6" />
<line x1="199.44" y1="256.14" x2="204.44" y2="256.14" stroke="#2b2b2b" stroke-width="0.6" />
<line x1="199.44" y1="264.46" x2="204.44" y2="264.46" stroke="#2b2b2b" stroke-width="0.6" />
<rect x="210.71" y="258.11" width="7.2" height="11.89" fill="#F0958A" stroke="#D8412A" stroke-width="0.9"/>
<circle cx="214.16" cy="251.52" r="0.85" fill="none" stroke="#E4573F" stroke-width="0.6"/>
<circle cx="214.16" cy="259.84" r="0.85" fill="none" stroke="#E4573F" stroke-width="0.6"/>
<circle cx="214.16" cy="270.92" r="0.85" fill="none" stroke="#E4573F" stroke-width="0.6"/>
<line x1="214.16" y1="263.84" x2="214.16" y2="251.98" stroke="#2b2b2b" stroke-width="0.6" />
<line x1="211.66" y1="251.98" x2="216.66" y2="251.98" stroke="#2b2b2b" stroke-width="0.6" />
<line x1="211.66" y1="263.84" x2="216.66" y2="263.84" stroke="#2b2b2b" stroke-width="0.6" />
<rect x="222.93" y="266.70" width="7.2" height="3.30" fill="#F0958A" stroke="#D8412A" stroke-width="0.9"/>
<circle cx="226.38" cy="258.11" r="0.85" fill="none" stroke="#E4573F" stroke-width="0.6"/>
<circle cx="224.38" cy="270.00" r="0.85" fill="none" stroke="#E4573F" stroke-width="0.6"/>
<circle cx="228.38" cy="270.00" r="0.85" fill="none" stroke="#E4573F" stroke-width="0.6"/>
<line x1="226.38" y1="270.49" x2="226.38" y2="262.30" stroke="#2b2b2b" stroke-width="0.6" />
<line x1="223.88" y1="262.30" x2="228.88" y2="262.30" stroke="#2b2b2b" stroke-width="0.6" />
<line x1="223.88" y1="270.49" x2="228.88" y2="270.49" stroke="#2b2b2b" stroke-width="0.6" />
<rect x="235.15" y="268.46" width="7.2" height="1.54" fill="#F0958A" stroke="#D8412A" stroke-width="0.9"/>
<circle cx="238.60" cy="263.84" r="0.85" fill="none" stroke="#E4573F" stroke-width="0.6"/>
<circle cx="236.60" cy="270.00" r="0.85" fill="none" stroke="#E4573F" stroke-width="0.6"/>
<circle cx="240.60" cy="270.00" r="0.85" fill="none" stroke="#E4573F" stroke-width="0.6"/>
<line x1="238.60" y1="270.49" x2="238.60" y2="266.61" stroke="#2b2b2b" stroke-width="0.6" />
<line x1="236.10" y1="266.61" x2="241.10" y2="266.61" stroke="#2b2b2b" stroke-width="0.6" />
<line x1="236.10" y1="270.49" x2="241.10" y2="270.49" stroke="#2b2b2b" stroke-width="0.6" />
<line x1="169.9" y1="239.0" x2="169.9" y2="270.0" stroke="#2c2c2c" stroke-width="0.8" />
<line x1="169.6" y1="270.0" x2="247.2" y2="270.0" stroke="#2c2c2c" stroke-width="0.8" />
<line x1="166.1" y1="270.0" x2="169.9" y2="270.0" stroke="#2c2c2c" stroke-width="0.8" />
<text x="160.70000000000002" y="273.3" font-size="9" fill="#1a1a1a" text-anchor="end" >0</text>
<line x1="166.1" y1="254.5" x2="169.9" y2="254.5" stroke="#2c2c2c" stroke-width="0.8" />
<text x="160.70000000000002" y="257.8" font-size="9" fill="#1a1a1a" text-anchor="end" >50</text>
<line x1="166.1" y1="239.0" x2="169.9" y2="239.0" stroke="#2c2c2c" stroke-width="0.8" />
<text x="160.70000000000002" y="242.3" font-size="9" fill="#1a1a1a" text-anchor="end" >100</text>
<line x1="177.50" y1="270.0" x2="177.50" y2="272.6" stroke="#2c2c2c" stroke-width="0.8" />
<line x1="189.72" y1="270.0" x2="189.72" y2="272.6" stroke="#2c2c2c" stroke-width="0.8" />
<line x1="201.94" y1="270.0" x2="201.94" y2="272.6" stroke="#2c2c2c" stroke-width="0.8" />
<line x1="214.16" y1="270.0" x2="214.16" y2="272.6" stroke="#2c2c2c" stroke-width="0.8" />
<line x1="226.38" y1="270.0" x2="226.38" y2="272.6" stroke="#2c2c2c" stroke-width="0.8" />
<line x1="238.60" y1="270.0" x2="238.60" y2="272.6" stroke="#2c2c2c" stroke-width="0.8" />
<text x="172.4" y="233.1" font-size="9.3" fill="#1a1a1a" text-anchor="start" textLength="68.6" lengthAdjust="spacingAndGlyphs" ><tspan font-style="italic">Eng-iKO</tspan><tspan font-style="italic" dy="-3.4" font-size="6">e</tspan><tspan dy="3.4"> + TGFβ1</tspan></text>
<text x="172.6" y="242.6" font-size="9.3" fill="#1a1a1a" text-anchor="start" textLength="48.7" lengthAdjust="spacingAndGlyphs" >+ SB-431542</text>
<circle cx="175.50" cy="323.10" r="0.85" fill="none" stroke="#E4573F" stroke-width="0.6"/>
<circle cx="177.50" cy="323.10" r="0.85" fill="none" stroke="#E4573F" stroke-width="0.6"/>
<circle cx="179.50" cy="323.10" r="0.85" fill="none" stroke="#E4573F" stroke-width="0.6"/>
<rect x="186.27" y="318.97" width="7.2" height="4.13" fill="#F0958A" stroke="#D8412A" stroke-width="0.9"/>
<circle cx="189.72" cy="312.94" r="0.85" fill="none" stroke="#E4573F" stroke-width="0.6"/>
<circle cx="189.72" cy="320.02" r="0.85" fill="none" stroke="#E4573F" stroke-width="0.6"/>
<circle cx="189.72" cy="324.02" r="0.85" fill="none" stroke="#E4573F" stroke-width="0.6"/>
<line x1="189.72" y1="321.56" x2="189.72" y2="315.71" stroke="#2b2b2b" stroke-width="0.6" />
<line x1="187.22" y1="315.71" x2="192.22" y2="315.71" stroke="#2b2b2b" stroke-width="0.6" />
<line x1="187.22" y1="321.56" x2="192.22" y2="321.56" stroke="#2b2b2b" stroke-width="0.6" />
<rect x="198.49" y="310.78" width="7.2" height="12.32" fill="#F0958A" stroke="#D8412A" stroke-width="0.9"/>
<circle cx="201.94" cy="297.54" r="0.85" fill="none" stroke="#E4573F" stroke-width="0.6"/>
<circle cx="201.94" cy="309.86" r="0.85" fill="none" stroke="#E4573F" stroke-width="0.6"/>
<circle cx="201.94" cy="316.94" r="0.85" fill="none" stroke="#E4573F" stroke-width="0.6"/>
<circle cx="201.94" cy="324.02" r="0.85" fill="none" stroke="#E4573F" stroke-width="0.6"/>
<line x1="201.94" y1="315.09" x2="201.94" y2="305.54" stroke="#2b2b2b" stroke-width="0.6" />
<line x1="199.44" y1="305.54" x2="204.44" y2="305.54" stroke="#2b2b2b" stroke-width="0.6" />
<line x1="199.44" y1="315.09" x2="204.44" y2="315.09" stroke="#2b2b2b" stroke-width="0.6" />
<rect x="210.71" y="313.68" width="7.2" height="9.42" fill="#F0958A" stroke="#D8412A" stroke-width="0.9"/>
<circle cx="214.16" cy="307.39" r="0.85" fill="none" stroke="#E4573F" stroke-width="0.6"/>
<circle cx="214.16" cy="312.32" r="0.85" fill="none" stroke="#E4573F" stroke-width="0.6"/>
<circle cx="214.16" cy="316.32" r="0.85" fill="none" stroke="#E4573F" stroke-width="0.6"/>
<line x1="214.16" y1="316.17" x2="214.16" y2="311.21" stroke="#2b2b2b" stroke-width="0.6" />
<line x1="211.66" y1="311.21" x2="216.66" y2="311.21" stroke="#2b2b2b" stroke-width="0.6" />
<line x1="211.66" y1="316.17" x2="216.66" y2="316.17" stroke="#2b2b2b" stroke-width="0.6" />
<rect x="222.93" y="321.87" width="7.2" height="1.23" fill="#F0958A" stroke="#D8412A" stroke-width="0.9"/>
<circle cx="226.38" cy="317.86" r="0.85" fill="none" stroke="#E4573F" stroke-width="0.6"/>
<circle cx="224.38" cy="323.10" r="0.85" fill="none" stroke="#E4573F" stroke-width="0.6"/>
<circle cx="228.38" cy="323.10" r="0.85" fill="none" stroke="#E4573F" stroke-width="0.6"/>
<line x1="226.38" y1="323.41" x2="226.38" y2="320.33" stroke="#2b2b2b" stroke-width="0.6" />
<line x1="223.88" y1="320.33" x2="228.88" y2="320.33" stroke="#2b2b2b" stroke-width="0.6" />
<line x1="223.88" y1="323.41" x2="228.88" y2="323.41" stroke="#2b2b2b" stroke-width="0.6" />
<rect x="235.15" y="320.64" width="7.2" height="2.46" fill="#F0958A" stroke="#D8412A" stroke-width="0.9"/>
<circle cx="238.60" cy="312.94" r="0.85" fill="none" stroke="#E4573F" stroke-width="0.6"/>
<circle cx="236.60" cy="323.10" r="0.85" fill="none" stroke="#E4573F" stroke-width="0.6"/>
<circle cx="240.60" cy="323.10" r="0.85" fill="none" stroke="#E4573F" stroke-width="0.6"/>
<line x1="238.60" y1="323.10" x2="238.60" y2="318.17" stroke="#2b2b2b" stroke-width="0.6" />
<line x1="236.10" y1="318.17" x2="241.10" y2="318.17" stroke="#2b2b2b" stroke-width="0.6" />
<line x1="236.10" y1="323.10" x2="241.10" y2="323.10" stroke="#2b2b2b" stroke-width="0.6" />
<line x1="169.9" y1="292.1" x2="169.9" y2="323.1" stroke="#2c2c2c" stroke-width="0.8" />
<line x1="169.6" y1="323.1" x2="247.2" y2="323.1" stroke="#2c2c2c" stroke-width="0.8" />
<line x1="166.1" y1="323.1" x2="169.9" y2="323.1" stroke="#2c2c2c" stroke-width="0.8" />
<text x="160.70000000000002" y="326.40000000000003" font-size="9" fill="#1a1a1a" text-anchor="end" >0</text>
<line x1="166.1" y1="307.6" x2="169.9" y2="307.6" stroke="#2c2c2c" stroke-width="0.8" />
<text x="160.70000000000002" y="310.90000000000003" font-size="9" fill="#1a1a1a" text-anchor="end" >50</text>
<line x1="166.1" y1="292.1" x2="169.9" y2="292.1" stroke="#2c2c2c" stroke-width="0.8" />
<text x="160.70000000000002" y="295.40000000000003" font-size="9" fill="#1a1a1a" text-anchor="end" >100</text>
<line x1="177.50" y1="323.1" x2="177.50" y2="325.70000000000005" stroke="#2c2c2c" stroke-width="0.8" />
<line x1="189.72" y1="323.1" x2="189.72" y2="325.70000000000005" stroke="#2c2c2c" stroke-width="0.8" />
<line x1="201.94" y1="323.1" x2="201.94" y2="325.70000000000005" stroke="#2c2c2c" stroke-width="0.8" />
<line x1="214.16" y1="323.1" x2="214.16" y2="325.70000000000005" stroke="#2c2c2c" stroke-width="0.8" />
<line x1="226.38" y1="323.1" x2="226.38" y2="325.70000000000005" stroke="#2c2c2c" stroke-width="0.8" />
<line x1="238.60" y1="323.1" x2="238.60" y2="325.70000000000005" stroke="#2c2c2c" stroke-width="0.8" />
<text x="172.4" y="286.20000000000005" font-size="9.3" fill="#1a1a1a" text-anchor="start" textLength="68.6" lengthAdjust="spacingAndGlyphs" ><tspan font-style="italic">Eng-iKO</tspan><tspan font-style="italic" dy="-3.4" font-size="6">e</tspan><tspan dy="3.4"> + TGFβ1</tspan></text>
<text x="172.6" y="295.70000000000005" font-size="9.3" fill="#1a1a1a" text-anchor="start" textLength="38.8" lengthAdjust="spacingAndGlyphs" >+ Y-27632</text>
<text x="55.30" y="282.60" font-size="9.5" fill="#1a1a1a" text-anchor="end" transform="rotate(-45 55.30 282.60)" >1.0</text>
<text x="67.52" y="282.60" font-size="9.5" fill="#1a1a1a" text-anchor="end" transform="rotate(-45 67.52 282.60)" >1.5</text>
<text x="79.74" y="282.60" font-size="9.5" fill="#1a1a1a" text-anchor="end" transform="rotate(-45 79.74 282.60)" >2.0</text>
<text x="91.96" y="282.60" font-size="9.5" fill="#1a1a1a" text-anchor="end" transform="rotate(-45 91.96 282.60)" >2.5</text>
<text x="104.18" y="282.60" font-size="9.5" fill="#1a1a1a" text-anchor="end" transform="rotate(-45 104.18 282.60)" >3.0</text>
<text x="116.40" y="282.60" font-size="9.5" fill="#1a1a1a" text-anchor="end" transform="rotate(-45 116.40 282.60)" >3.5</text>
<text x="182.50" y="335.70" font-size="9.5" fill="#1a1a1a" text-anchor="end" transform="rotate(-45 182.50 335.70)" >1.0</text>
<text x="194.72" y="335.70" font-size="9.5" fill="#1a1a1a" text-anchor="end" transform="rotate(-45 194.72 335.70)" >1.5</text>
<text x="206.94" y="335.70" font-size="9.5" fill="#1a1a1a" text-anchor="end" transform="rotate(-45 206.94 335.70)" >2.0</text>
<text x="219.16" y="335.70" font-size="9.5" fill="#1a1a1a" text-anchor="end" transform="rotate(-45 219.16 335.70)" >2.5</text>
<text x="231.38" y="335.70" font-size="9.5" fill="#1a1a1a" text-anchor="end" transform="rotate(-45 231.38 335.70)" >3.0</text>
<text x="243.60" y="335.70" font-size="9.5" fill="#1a1a1a" text-anchor="end" transform="rotate(-45 243.60 335.70)" >3.5</text>
<text x="81.3" y="308" font-size="10" fill="#1a1a1a" text-anchor="middle" textLength="64" lengthAdjust="spacingAndGlyphs" >Intensity (µA)</text>
<text x="208.6" y="360.8" font-size="10" fill="#1a1a1a" text-anchor="middle" textLength="64" lengthAdjust="spacingAndGlyphs" >Intensity (µA)</text>
<text x="8.8" y="205.8" font-size="10" fill="#1a1a1a" text-anchor="middle" transform="rotate(-90 8.8 205.8)" textLength="88.5" lengthAdjust="spacingAndGlyphs" >EP constriction (%)</text>
<text x="136.2" y="226" font-size="10" fill="#1a1a1a" text-anchor="middle" transform="rotate(-90 136.2 226)" textLength="88.5" lengthAdjust="spacingAndGlyphs" >EP constriction (%)</text>
<rect x="296.5" y="192.60" width="13.6" height="32.70" fill="#BDBDBD" stroke="#7E7E7E" stroke-width="0.9"/>
<circle cx="303.30" cy="190.23" r="1" fill="none" stroke="#9a9a9a" stroke-width="0.5"/>
<circle cx="301.30" cy="191.42" r="1" fill="none" stroke="#9a9a9a" stroke-width="0.5"/>
<circle cx="305.30" cy="191.42" r="1" fill="none" stroke="#9a9a9a" stroke-width="0.5"/>
<circle cx="303.30" cy="194.17" r="1" fill="none" stroke="#9a9a9a" stroke-width="0.5"/>
<line x1="303.30" y1="193.78" x2="303.30" y2="191.42" stroke="#2b2b2b" stroke-width="0.5" />
<line x1="300.30" y1="191.42" x2="306.30" y2="191.42" stroke="#2b2b2b" stroke-width="0.5" />
<line x1="300.30" y1="193.78" x2="306.30" y2="193.78" stroke="#2b2b2b" stroke-width="0.5" />
<line x1="299.30" y1="192.60" x2="307.30" y2="192.60" stroke="#2b2b2b" stroke-width="0.5" />
<rect x="320.3" y="177.63" width="13.6" height="47.67" fill="#F0958A" stroke="#D8412A" stroke-width="0.9"/>
<circle cx="327.10" cy="174.08" r="1" fill="none" stroke="#E2604A" stroke-width="0.5"/>
<circle cx="324.90" cy="175.66" r="1" fill="none" stroke="#E2604A" stroke-width="0.5"/>
<circle cx="329.30" cy="175.66" r="1" fill="none" stroke="#E2604A" stroke-width="0.5"/>
<circle cx="327.10" cy="179.40" r="1" fill="none" stroke="#E2604A" stroke-width="0.5"/>
<line x1="327.10" y1="179.20" x2="327.10" y2="176.05" stroke="#2b2b2b" stroke-width="0.5" />
<line x1="324.10" y1="176.05" x2="330.10" y2="176.05" stroke="#2b2b2b" stroke-width="0.5" />
<line x1="324.10" y1="179.20" x2="330.10" y2="179.20" stroke="#2b2b2b" stroke-width="0.5" />
<line x1="323.10" y1="177.63" x2="331.10" y2="177.63" stroke="#2b2b2b" stroke-width="0.5" />
<rect x="337.6" y="179.99" width="13.6" height="45.31" fill="#F0958A" stroke="#D8412A" stroke-width="0.9"/>
<circle cx="344.40" cy="178.02" r="1" fill="none" stroke="#E2604A" stroke-width="0.5"/>
<circle cx="342.90" cy="178.81" r="1" fill="none" stroke="#E2604A" stroke-width="0.5"/>
<circle cx="345.90" cy="178.81" r="1" fill="none" stroke="#E2604A" stroke-width="0.5"/>
<line x1="344.40" y1="180.58" x2="344.40" y2="179.40" stroke="#2b2b2b" stroke-width="0.5" />
<line x1="341.40" y1="179.40" x2="347.40" y2="179.40" stroke="#2b2b2b" stroke-width="0.5" />
<line x1="341.40" y1="180.58" x2="347.40" y2="180.58" stroke="#2b2b2b" stroke-width="0.5" />
<line x1="340.40" y1="179.99" x2="348.40" y2="179.99" stroke="#2b2b2b" stroke-width="0.5" />
<rect x="354.9" y="193.39" width="13.6" height="31.91" fill="#F0958A" stroke="#D8412A" stroke-width="0.9"/>
<circle cx="360.20" cy="188.66" r="1" fill="none" stroke="#E2604A" stroke-width="0.5"/>
<circle cx="362.90" cy="189.05" r="1" fill="none" stroke="#E2604A" stroke-width="0.5"/>
<circle cx="359.20" cy="191.81" r="1" fill="none" stroke="#E2604A" stroke-width="0.5"/>
<circle cx="361.70" cy="191.81" r="1" fill="none" stroke="#E2604A" stroke-width="0.5"/>
<circle cx="364.20" cy="191.81" r="1" fill="none" stroke="#E2604A" stroke-width="0.5"/>
<circle cx="361.70" cy="194.17" r="1" fill="none" stroke="#E2604A" stroke-width="0.5"/>
<line x1="361.70" y1="194.77" x2="361.70" y2="192.01" stroke="#2b2b2b" stroke-width="0.5" />
<line x1="358.70" y1="192.01" x2="364.70" y2="192.01" stroke="#2b2b2b" stroke-width="0.5" />
<line x1="358.70" y1="194.77" x2="364.70" y2="194.77" stroke="#2b2b2b" stroke-width="0.5" />
<line x1="357.70" y1="193.39" x2="365.70" y2="193.39" stroke="#2b2b2b" stroke-width="0.5" />
<rect x="372.2" y="192.60" width="13.6" height="32.70" fill="#F0958A" stroke="#D8412A" stroke-width="0.9"/>
<circle cx="379.00" cy="188.26" r="1" fill="none" stroke="#E2604A" stroke-width="0.5"/>
<circle cx="377.00" cy="191.42" r="1" fill="none" stroke="#E2604A" stroke-width="0.5"/>
<circle cx="381.00" cy="191.42" r="1" fill="none" stroke="#E2604A" stroke-width="0.5"/>
<circle cx="379.00" cy="194.77" r="1" fill="none" stroke="#E2604A" stroke-width="0.5"/>
<line x1="379.00" y1="194.17" x2="379.00" y2="191.02" stroke="#2b2b2b" stroke-width="0.5" />
<line x1="376.00" y1="191.02" x2="382.00" y2="191.02" stroke="#2b2b2b" stroke-width="0.5" />
<line x1="376.00" y1="194.17" x2="382.00" y2="194.17" stroke="#2b2b2b" stroke-width="0.5" />
<line x1="375.00" y1="192.60" x2="383.00" y2="192.60" stroke="#2b2b2b" stroke-width="0.5" />
<rect x="389.5" y="178.61" width="13.6" height="46.69" fill="#F0958A" stroke="#D8412A" stroke-width="0.9"/>
<circle cx="396.30" cy="173.69" r="1" fill="none" stroke="#E2604A" stroke-width="0.5"/>
<circle cx="394.30" cy="177.23" r="1" fill="none" stroke="#E2604A" stroke-width="0.5"/>
<circle cx="398.30" cy="177.23" r="1" fill="none" stroke="#E2604A" stroke-width="0.5"/>
<circle cx="396.30" cy="179.99" r="1" fill="none" stroke="#E2604A" stroke-width="0.5"/>
<line x1="396.30" y1="180.98" x2="396.30" y2="176.25" stroke="#2b2b2b" stroke-width="0.5" />
<line x1="393.30" y1="176.25" x2="399.30" y2="176.25" stroke="#2b2b2b" stroke-width="0.5" />
<line x1="393.30" y1="180.98" x2="399.30" y2="180.98" stroke="#2b2b2b" stroke-width="0.5" />
<line x1="392.30" y1="178.61" x2="400.30" y2="178.61" stroke="#2b2b2b" stroke-width="0.5" />
<rect x="406.8" y="181.96" width="13.6" height="43.34" fill="#F0958A" stroke="#D8412A" stroke-width="0.9"/>
<circle cx="413.60" cy="167.58" r="1" fill="none" stroke="#E2604A" stroke-width="0.5"/>
<circle cx="413.60" cy="181.57" r="1" fill="none" stroke="#E2604A" stroke-width="0.5"/>
<circle cx="413.60" cy="185.90" r="1" fill="none" stroke="#E2604A" stroke-width="0.5"/>
<line x1="413.60" y1="186.69" x2="413.60" y2="177.23" stroke="#2b2b2b" stroke-width="0.5" />
<line x1="410.60" y1="177.23" x2="416.60" y2="177.23" stroke="#2b2b2b" stroke-width="0.5" />
<line x1="410.60" y1="186.69" x2="416.60" y2="186.69" stroke="#2b2b2b" stroke-width="0.5" />
<line x1="409.60" y1="181.96" x2="417.60" y2="181.96" stroke="#2b2b2b" stroke-width="0.5" />
<line x1="289.8" y1="146.5" x2="289.8" y2="225.3" stroke="#2c2c2c" stroke-width="0.8" />
<line x1="286.8" y1="225.3" x2="420.5" y2="225.3" stroke="#2c2c2c" stroke-width="0.8" />
<line x1="286.3" y1="225.3" x2="289.8" y2="225.3" stroke="#2c2c2c" stroke-width="0.8" />
<text x="282.3" y="228.60" font-size="9" fill="#1a1a1a" text-anchor="end" >0</text>
<line x1="286.3" y1="205.60000000000002" x2="289.8" y2="205.60000000000002" stroke="#2c2c2c" stroke-width="0.8" />
<text x="282.3" y="208.90" font-size="9" fill="#1a1a1a" text-anchor="end" >1</text>
<line x1="286.3" y1="185.9" x2="289.8" y2="185.9" stroke="#2c2c2c" stroke-width="0.8" />
<text x="282.3" y="189.20" font-size="9" fill="#1a1a1a" text-anchor="end" >2</text>
<line x1="286.3" y1="166.20000000000002" x2="289.8" y2="166.20000000000002" stroke="#2c2c2c" stroke-width="0.8" />
<text x="282.3" y="169.50" font-size="9" fill="#1a1a1a" text-anchor="end" >3</text>
<line x1="286.3" y1="146.5" x2="289.8" y2="146.5" stroke="#2c2c2c" stroke-width="0.8" />
<text x="282.3" y="149.80" font-size="9" fill="#1a1a1a" text-anchor="end" >4</text>
<text x="266.5" y="186" font-size="10" fill="#1a1a1a" text-anchor="middle" transform="rotate(-90 266.5 186)" textLength="64" lengthAdjust="spacingAndGlyphs" >Intensity (µA)</text>
<text x="325.80" y="161.6" font-size="9.2" fill="#1a1a1a" text-anchor="start" transform="rotate(-45 325.80 161.6)" textLength="39" lengthAdjust="spacingAndGlyphs" ><tspan font-style="italic">P</tspan> = 0.001</text>
<text x="343.40" y="161.6" font-size="9.2" fill="#1a1a1a" text-anchor="start" transform="rotate(-45 343.40 161.6)" textLength="39" lengthAdjust="spacingAndGlyphs" ><tspan font-style="italic">P</tspan> = 0.005</text>
<text x="362.80" y="161.6" font-size="9.2" fill="#1a1a1a" text-anchor="start" transform="rotate(-45 362.80 161.6)" textLength="39" lengthAdjust="spacingAndGlyphs" ><tspan font-style="italic">P</tspan> = 0.997</text>
<text x="376.80" y="161.6" font-size="9.2" fill="#1a1a1a" text-anchor="start" transform="rotate(-45 376.80 161.6)" textLength="39" lengthAdjust="spacingAndGlyphs" ><tspan font-style="italic">P</tspan> = 0.999</text>
<text x="393.70" y="161.6" font-size="9.2" fill="#1a1a1a" text-anchor="start" transform="rotate(-45 393.70 161.6)" textLength="39" lengthAdjust="spacingAndGlyphs" ><tspan font-style="italic">P</tspan> = 0.002</text>
<text x="410.00" y="161.6" font-size="9.2" fill="#1a1a1a" text-anchor="start" transform="rotate(-45 410.00 161.6)" textLength="39" lengthAdjust="spacingAndGlyphs" ><tspan font-style="italic">P</tspan> = 0.009</text>
<text x="308.2" y="236.8" font-size="10.2" fill="#1a1a1a" text-anchor="end" transform="rotate(-45 308.2 236.8)" textLength="37.5" lengthAdjust="spacingAndGlyphs" >Control</text>
<text x="423.8" y="236.20" font-size="8.6" fill="#1a1a1a" text-anchor="start" textLength="22.2" lengthAdjust="spacingAndGlyphs" >BMP9</text>
<line x1="325.20" y1="233.20" x2="329.00" y2="233.20" stroke="#222" stroke-width="0.7" />
<line x1="342.50" y1="233.20" x2="346.30" y2="233.20" stroke="#222" stroke-width="0.7" />
<line x1="344.40" y1="231.30" x2="344.40" y2="235.10" stroke="#222" stroke-width="0.7" />
<line x1="359.80" y1="233.20" x2="363.60" y2="233.20" stroke="#222" stroke-width="0.7" />
<line x1="377.10" y1="233.20" x2="380.90" y2="233.20" stroke="#222" stroke-width="0.7" />
<line x1="394.40" y1="233.20" x2="398.20" y2="233.20" stroke="#222" stroke-width="0.7" />
<line x1="411.70" y1="233.20" x2="415.50" y2="233.20" stroke="#222" stroke-width="0.7" />
<text x="423.8" y="247.53" font-size="8.6" fill="#1a1a1a" text-anchor="start" textLength="23.7" lengthAdjust="spacingAndGlyphs" >TGFβ1</text>
<line x1="325.20" y1="244.53" x2="329.00" y2="244.53" stroke="#222" stroke-width="0.7" />
<line x1="342.50" y1="244.53" x2="346.30" y2="244.53" stroke="#222" stroke-width="0.7" />
<line x1="359.80" y1="244.53" x2="363.60" y2="244.53" stroke="#222" stroke-width="0.7" />
<line x1="361.70" y1="242.63" x2="361.70" y2="246.43" stroke="#222" stroke-width="0.7" />
<line x1="377.10" y1="244.53" x2="380.90" y2="244.53" stroke="#222" stroke-width="0.7" />
<line x1="379.00" y1="242.63" x2="379.00" y2="246.43" stroke="#222" stroke-width="0.7" />
<line x1="394.40" y1="244.53" x2="398.20" y2="244.53" stroke="#222" stroke-width="0.7" />
<line x1="396.30" y1="242.63" x2="396.30" y2="246.43" stroke="#222" stroke-width="0.7" />
<line x1="411.70" y1="244.53" x2="415.50" y2="244.53" stroke="#222" stroke-width="0.7" />
<line x1="413.60" y1="242.63" x2="413.60" y2="246.43" stroke="#222" stroke-width="0.7" />
<text x="423.8" y="258.86" font-size="8.6" fill="#1a1a1a" text-anchor="start" textLength="63.6" lengthAdjust="spacingAndGlyphs" >Actinomyocin D</text>
<line x1="325.20" y1="255.86" x2="329.00" y2="255.86" stroke="#222" stroke-width="0.7" />
<line x1="342.50" y1="255.86" x2="346.30" y2="255.86" stroke="#222" stroke-width="0.7" />
<line x1="359.80" y1="255.86" x2="363.60" y2="255.86" stroke="#222" stroke-width="0.7" />
<line x1="377.10" y1="255.86" x2="380.90" y2="255.86" stroke="#222" stroke-width="0.7" />
<line x1="379.00" y1="253.96" x2="379.00" y2="257.76" stroke="#222" stroke-width="0.7" />
<line x1="394.40" y1="255.86" x2="398.20" y2="255.86" stroke="#222" stroke-width="0.7" />
<line x1="411.70" y1="255.86" x2="415.50" y2="255.86" stroke="#222" stroke-width="0.7" />
<text x="423.8" y="270.19" font-size="8.6" fill="#1a1a1a" text-anchor="start" textLength="42.4" lengthAdjust="spacingAndGlyphs" >SB-431542</text>
<line x1="325.20" y1="267.19" x2="329.00" y2="267.19" stroke="#222" stroke-width="0.7" />
<line x1="342.50" y1="267.19" x2="346.30" y2="267.19" stroke="#222" stroke-width="0.7" />
<line x1="359.80" y1="267.19" x2="363.60" y2="267.19" stroke="#222" stroke-width="0.7" />
<line x1="377.10" y1="267.19" x2="380.90" y2="267.19" stroke="#222" stroke-width="0.7" />
<line x1="394.40" y1="267.19" x2="398.20" y2="267.19" stroke="#222" stroke-width="0.7" />
<line x1="396.30" y1="265.29" x2="396.30" y2="269.09" stroke="#222" stroke-width="0.7" />
<line x1="411.70" y1="267.19" x2="415.50" y2="267.19" stroke="#222" stroke-width="0.7" />
<text x="423.8" y="281.52" font-size="8.6" fill="#1a1a1a" text-anchor="start" textLength="32.2" lengthAdjust="spacingAndGlyphs" >Y-27632</text>
<line x1="325.20" y1="278.52" x2="329.00" y2="278.52" stroke="#222" stroke-width="0.7" />
<line x1="342.50" y1="278.52" x2="346.30" y2="278.52" stroke="#222" stroke-width="0.7" />
<line x1="359.80" y1="278.52" x2="363.60" y2="278.52" stroke="#222" stroke-width="0.7" />
<line x1="377.10" y1="278.52" x2="380.90" y2="278.52" stroke="#222" stroke-width="0.7" />
<line x1="394.40" y1="278.52" x2="398.20" y2="278.52" stroke="#222" stroke-width="0.7" />
<line x1="411.70" y1="278.52" x2="415.50" y2="278.52" stroke="#222" stroke-width="0.7" />
<line x1="413.60" y1="276.62" x2="413.60" y2="280.42" stroke="#222" stroke-width="0.7" />
<line x1="319.5" y1="286.5" x2="418.5" y2="286.5" stroke="#222" stroke-width="0.7" />
<text x="370.8" y="298.3" font-size="10" fill="#1a1a1a" text-anchor="middle" font-style="italic" textLength="42" lengthAdjust="spacingAndGlyphs" ><tspan>Eng-iKO</tspan><tspan dy="-3.8" font-size="6.4">e</tspan></text>
<g id="paneld">
<!-- PC cell -->
<path d="M540.7 159.8 C540 162 540 167 540.6 172 C541.2 178 542 182 543 186 L548 200 L556 222 L552 250 L543.4 259.6 C542.4 262 542.2 266 542.3 270 C542.4 276 542.8 282 543.3 287.2 C543.5 288 544.1 288 544.3 287.2 C545.4 282 546.8 276 549 272 C551 267.6 552.2 264.6 554.6 261.8 C557.6 258.6 560.6 256.6 563.6 254.2 C566.6 251.6 569 249 572.4 245.4 C576.4 241.4 581.6 237 584 230.6 C586 225 585.8 217.6 583.6 212.6 C581.4 207.6 577.4 204.4 572.6 202.4 C567.6 200.4 562.6 199 559 196 C555.6 192.8 552.8 188 550.2 183.4 C547 177.6 544 168 541.9 160 C541.5 159.2 540.9 159.2 540.7 159.8 Z" fill="#F08A8C" stroke="#D3484E" stroke-width="0.8" stroke-linejoin="round"/>
<!-- PC nucleus -->
<path d="M576.6 207 C580.6 207.6 582.8 213 582.6 219.6 C582.4 227 579.6 233.6 575.4 234.6 C572 235.2 570.2 232 570.6 228 C571 224 573.2 222 573.2 218 C573.2 214 571.6 207.4 576.6 207 Z" fill="#A01E24"/>
<!-- EC cell -->
<path d="M539.2 181.5 C537.2 181.7 535.7 183.6 535.5 186.4 C535.3 190 535.5 194 536.3 198 C537.2 202 538.4 205.6 539.6 209 C541 213 542.4 217 542.7 222 C543 227 542.4 232 541.2 236.2 C540.2 240 538.6 244 537.5 247.4 C536.6 250.4 536.2 252.6 536.5 254.6 C536.9 257.2 538.4 258.8 540.6 258.9 C542.6 259 544.2 258.4 545.6 257.5 C548.6 255.6 551.4 252.8 553.8 249.8 C556.6 246.4 558.8 242.6 560.6 238.8 C562.6 234.6 564 231 564.7 227.6 C565.3 224.6 565.5 222 565.3 219.4 C565 216.4 564.4 214 563.4 211.4 C562 207.6 559.6 203.6 557 199.8 C554.8 196.6 552.6 193.6 550.2 190.6 C548 187.8 545.8 185 543.4 183 C542 181.8 540.6 181.3 539.2 181.5 Z" fill="#90A9DA" stroke="#3F62AA" stroke-width="0.8" stroke-linejoin="round"/>
<ellipse cx="555.8" cy="221" rx="4.1" ry="8.2" fill="#5E80C2"/>
<!-- zoom lines -->
<line x1="558.4" y1="195.6" x2="588" y2="164.6" stroke="#222" stroke-width="0.6"/>
<line x1="558.4" y1="195.6" x2="588" y2="178.4" stroke="#222" stroke-width="0.5" stroke-dasharray="0.8 0.8"/>
<!-- membrane -->
<rect x="588" y="164.2" width="47.6" height="14.2" fill="#F9D6D8"/>
<g stroke="#F2A2A8" stroke-width="0.6">
<path d="M589 166v10.6M590.6 166v10.6M592.2 166v10.6M593.8 166v10.6M595.4 166v10.6M597 166v10.6M598.6 166v10.6M600.2 166v10.6M601.8 166v10.6M603.4 166v10.6M605 166v10.6M606.6 166v10.6M608.2 166v10.6M609.8 166v10.6M611.4 166v10.6M613 166v10.6M614.6 166v10.6M616.2 166v10.6M617.8 166v10.6M619.4 166v10.6M621 166v10.6M622.6 166v10.6M624.2 166v10.6M625.8 166v10.6M627.4 166v10.6M629 166v10.6M630.6 166v10.6M632.2 166v10.6M633.8 166v10.6M635 166v10.6"/>
</g>
<rect x="588" y="170.6" width="47.6" height="1.4" fill="#FBE3E4" opacity="0.9"/>
<rect x="588" y="164.3" width="47.6" height="2.4" fill="#CB5E66"/>
<rect x="588" y="175.9" width="47.6" height="2.4" fill="#CB5E66"/>
<!-- receptor strands -->
<g fill="none" stroke-linecap="round">
<path d="M603 196.6 L603 160 C603 155 601.6 151.6 600.6 149.6 C599.8 147.8 601.4 146.8 602.8 147.8" stroke="#C2C2C2" stroke-width="2.4"/>
<path d="M619.7 198.6 L619.7 160 C619.7 154 620.2 149.6 622.4 148.8 C624.6 148 626 150.4 625.2 153.6 C625 154.6 624.6 155.4 624 156" stroke="#C2C2C2" stroke-width="2.4"/>
<path d="M604.6 154.4 C606.6 156.4 608.2 158.6 608.2 162.6 L608.2 192" stroke="#222" stroke-width="2.6"/>
<path d="M608.2 192 L608.2 199.6" stroke="#222" stroke-width="1.3"/>
<path d="M617.4 154.6 C615.8 156.6 614.5 158.8 614.5 162.6 L614.5 191" stroke="#41656F" stroke-width="2.2"/>
<path d="M614.5 191 L614.5 198.6" stroke="#41656F" stroke-width="1.2"/>
</g>
<circle cx="604.8" cy="154.6" r="1.7" fill="#222"/>
<circle cx="617.2" cy="154.8" r="1.5" fill="#41656F"/>
<!-- ligand on receptor (green) -->
<path d="M604 149.6 C607 149.4 610 151 611.4 152.4 C613 151 616 149 618.4 149.6 M604.4 155 C607 155.2 609.8 153.8 611.4 152.4 C613 153.8 615.6 155.4 618 154.8" fill="none" stroke="#2F9E2F" stroke-width="3.2" stroke-linecap="round"/>
<path d="M604 149.4 C607 149.2 610 150.8 611.4 152.2 C613 150.8 616 148.8 618.4 149.4 M604.6 154.6 C607 154.8 609.8 153.6 611.4 152.2 C613 153.6 615.6 155 617.8 154.4" fill="none" stroke="#3DBB3D" stroke-width="2.2" stroke-linecap="round"/>
<!-- latent TGFb complex -->
<g>
<path d="M559.6 143.2 L576.4 150.6 M574 143 L561.8 150.8" stroke="#4DB848" stroke-width="2.7" stroke-linecap="round" fill="none" opacity="0.95"/>
<ellipse cx="565.2" cy="135.8" rx="3.1" ry="4.5" fill="#6B51A6"/>
<ellipse cx="573.6" cy="136.1" rx="3.3" ry="4.3" fill="#6B51A6"/>
<path d="M566.4 131.6 C568 130.2 570.6 130.2 572.2 131.6 L570.2 134 L568.6 134 Z" fill="#6B51A6"/>
<path d="M563.1 139.6 C564.6 144 567 148.6 569.2 151.2 M576 139.6 C574.6 144 572 148.6 569.8 151.2" fill="none" stroke="#5A4596" stroke-width="0.9"/>
<line x1="569.5" y1="150.6" x2="569.5" y2="158.4" stroke="#6B51A6" stroke-width="2.5" stroke-linecap="round"/>
</g>
<!-- curved arrow from latent TGFb to receptor -->
<path d="M583 139.4 C585.4 133.4 594 131.6 598.6 136 C600 137.4 600.6 139.4 600.8 141.6" fill="none" stroke="#2F4A70" stroke-width="0.7"/>
<path d="M599.2 140.6 L602.6 140.4 L601 144 Z" fill="#2F4A70"/>
<!-- red X -->
<path d="M588.8 129 L596.2 136.8 M596.2 128.8 L588.6 136.8" stroke="#B8323E" stroke-width="2.7" stroke-linecap="butt" fill="none"/>
<!-- endoglin icon -->
<g fill="none" stroke="#1F3864" stroke-width="1.8" stroke-linecap="round">
<path d="M527 209.4 L531.6 210.8 L535.6 212.1 M527 215.2 L531.6 213.7 L535.6 212.5 M535.6 212.3 L546.6 212.3"/>
</g>
<path d="M537.2 208.6 L543.6 215.4 M543.8 208.8 L537 215.2" stroke="#B5303A" stroke-width="2.4" stroke-linecap="round" fill="none"/>
<!-- curved arrow receptor -> RhoA -->
<path d="M599 193 C594.4 196 594.6 203 598.6 207" fill="none" stroke="#2F4A70" stroke-width="0.7"/>
<path d="M597 207.4 L600.6 208.8 L600 205 Z" fill="#2F4A70"/>
<!-- RhoA / ROCK -->
<ellipse cx="613" cy="214" rx="16.2" ry="8" fill="#fff" stroke="#111" stroke-width="1.4"/>
<ellipse cx="613" cy="243" rx="16" ry="7.6" fill="#fff" stroke="#111" stroke-width="1.4"/>
<line x1="613" y1="223.2" x2="613" y2="232" stroke="#3B5583" stroke-width="0.8"/>
<path d="M611.4 231 L614.6 231 L613 234.6 Z" fill="#3B5583"/>
<line x1="613" y1="253" x2="613" y2="261" stroke="#3B5583" stroke-width="0.8"/>
<path d="M611.4 260.2 L614.6 260.2 L613 263.8 Z" fill="#3B5583"/>
<!-- inhibitors -->
<line x1="647.6" y1="194.8" x2="656.6" y2="203.6" stroke="#4288D4" stroke-width="1.2"/>
<line x1="645.4" y1="197" x2="650" y2="192.6" stroke="#4288D4" stroke-width="1.2"/>
<line x1="632.4" y1="243" x2="642.4" y2="243" stroke="#4288D4" stroke-width="1.2"/>
<line x1="632.4" y1="239.8" x2="632.4" y2="246.2" stroke="#4288D4" stroke-width="1.2"/>
</g>
<g font-family="'Liberation Sans', sans-serif">
<text x="528.4" y="127.6" font-size="10" fill="#6CB33E" textLength="57" lengthAdjust="spacingAndGlyphs">Latent TGFβ</text>
<text x="623.8" y="190" font-size="9.6" fill="#3f3f3f" textLength="24.2" lengthAdjust="spacingAndGlyphs">ALK5</text>
<text x="638.3" y="213.7" font-size="11" fill="#4288D4" textLength="47" lengthAdjust="spacingAndGlyphs">SB431542</text>
<text x="644.6" y="246.6" font-size="11" fill="#4288D4" textLength="34.4" lengthAdjust="spacingAndGlyphs">Y27632</text>
<text x="613" y="217" font-size="9" fill="#222" text-anchor="middle" textLength="20.8" lengthAdjust="spacingAndGlyphs">RhoA</text>
<text x="613" y="246" font-size="9" fill="#222" text-anchor="middle" textLength="21.8" lengthAdjust="spacingAndGlyphs">ROCK</text>
<text x="613.8" y="273.9" font-size="10.4" fill="#222" text-anchor="middle" textLength="55.8" lengthAdjust="spacingAndGlyphs">Contraction</text>
<text x="613.8" y="285.4" font-size="10.4" fill="#222" text-anchor="middle" textLength="49" lengthAdjust="spacingAndGlyphs">Relaxation</text>
<text x="498.6" y="224.6" font-size="10" fill="#3A6EA8" textLength="41.8" lengthAdjust="spacingAndGlyphs">Endoglin</text>
<text x="542.6" y="245" font-size="9" fill="#2F5A9A" textLength="12.4" lengthAdjust="spacingAndGlyphs">EC</text>
<text x="553.6" y="257.6" font-size="6.6" fill="#CF3030" textLength="8.4" lengthAdjust="spacingAndGlyphs">PC</text>
</g>

</svg>
</body></html>
